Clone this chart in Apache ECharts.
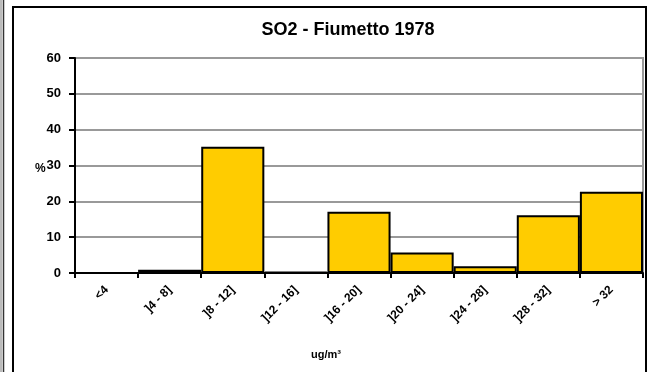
<!DOCTYPE html>
<html><head><meta charset="utf-8">
<script src="https://cdn.jsdelivr.net/npm/echarts@6/dist/echarts.min.js"></script>
<style>html,body{margin:0;padding:0;background:#fff}#c{width:650px;height:372px}</style>
</head><body><div id="c"></div>
<script>
var title = 'SO2 - Fiumetto 1978';
var categories = ['<4', ']4 - 8]', ']8 - 12]', ']12 - 16]', ']16 - 20]', ']20 - 24]', ']24 - 28]', ']28 - 32]', '> 32'];
var values = [0, 0.9, 35.2, 0.3, 17.1, 5.7, 1.9, 16.1, 22.7];
var yTicks = {min: 0, max: 60, interval: 10};
var xName = 'ug/m³';
var yName = '%';

var F = '"Liberation Sans", Arial, sans-serif';
var chart = echarts.init(document.getElementById('c'), null, {renderer: 'canvas'});
chart.setOption({
  animation: false,
  backgroundColor: '#fff',
  title: {text: title, left: 343, top: 16, textAlign: 'center',
    textStyle: {fontFamily: F, fontWeight: 'bold', fontSize: 18, color: '#000'}},
  grid: {left: 75, right: 7, top: 58, bottom: 99, containLabel: false,
    show: true, borderColor: '#999', borderWidth: 2, backgroundColor: 'transparent'},
  xAxis: {
    type: 'category', data: categories,
    axisLine: {lineStyle: {color: '#000', width: 2}},
    axisTick: {show: true, length: 5, lineStyle: {color: '#000', width: 2}},
    axisLabel: {rotate: 45, margin: 15, fontFamily: F, fontWeight: 'bold', fontSize: 12, color: '#000', interval: 0},
    name: xName, nameLocation: 'middle', nameGap: 76,
    nameTextStyle: {fontFamily: F, fontWeight: 'bold', fontSize: 11, color: '#000', padding: [0, 0, 0, -66]}
  },
  yAxis: {
    type: 'value', min: yTicks.min, max: yTicks.max, interval: yTicks.interval,
    axisLine: {show: true, lineStyle: {color: '#000', width: 2}},
    axisTick: {show: true, length: 6, lineStyle: {color: '#000', width: 2}},
    axisLabel: {margin: 14, fontFamily: F, fontWeight: 'bold', fontSize: 13, color: '#000'},
    splitLine: {lineStyle: {color: '#999', width: 2}}
  },
  series: [{
    type: 'bar', data: values, barCategoryGap: 0, barGap: 0,
    itemStyle: {color: '#FFCC00', borderColor: '#000', borderWidth: 2}
  }],
  graphic: [
    {type: 'rect', shape: {x: 13, y: 7, width: 633, height: 400}, style: {fill: 'none', stroke: '#000', lineWidth: 2}, z: 100},
    {type: 'line', shape: {x1: 1, y1: 0, x2: 1, y2: 372}, style: {stroke: '#777', lineWidth: 1}, z: 100},
    {type: 'line', shape: {x1: 3.5, y1: 0, x2: 3.5, y2: 372}, style: {stroke: '#333', lineWidth: 1.5}, z: 100},
    {type: 'text', left: 35, top: 163, style: {text: yName, fontFamily: F, fontWeight: 'bold', fontSize: 12, fill: '#000'}, z: 100}
  ]
});
</script></body></html>
